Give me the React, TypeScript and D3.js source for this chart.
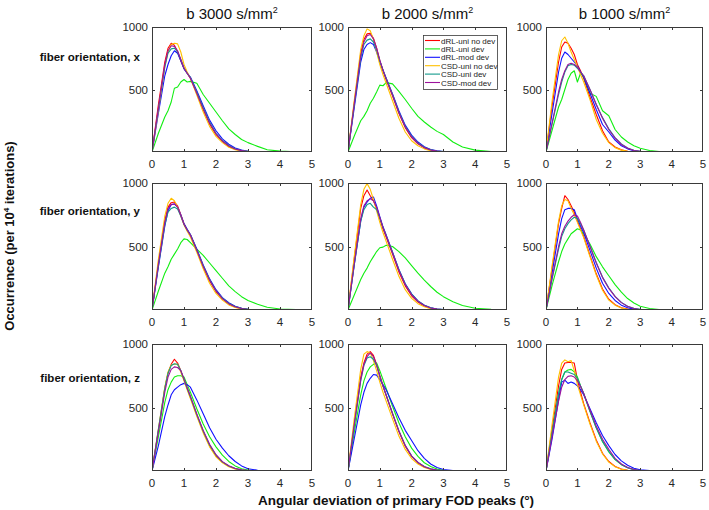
import React, { useEffect, useRef } from 'react'
import * as d3 from 'd3'

const GRID = [0, 0.2, 0.4, 0.5, 0.6, 0.7, 0.8, 0.9, 1.0, 1.1, 1.2, 1.4, 1.6, 1.8, 2.0, 2.2, 2.4, 2.6, 2.8, 3.0, 3.3, 3.6, 4.0, 4.5, 5.0]

const SERIES = ['dRL-uni no dev', 'dRL-uni dev', 'dRL-mod dev', 'CSD-uni no dev', 'CSD-uni dev', 'CSD-mod dev']
const COLORS = ['#ff0000', '#11ee11', '#1010ff', '#ffc000', '#129a8c', '#9c139c']

const B_VALUES = ['3000', '2000', '1000']
const ORIENTATIONS = ['x', 'y', 'z']
const X_TICKS = [0, 1, 2, 3, 4, 5]
const Y_TICKS = [500, 1000]

// each panel: one row per series, in SERIES order
const b3000_x = [
  [0, 380, 720, 830, 870, 855, 800, 730, 670, 630, 590, 470, 340, 225, 140, 85, 45, 22, 10, 4, 1, 0, 0, 0, 0],
  [0, 150, 280, 330, 400, 510, 520, 560, 580, 560, 565, 550, 460, 390, 320, 250, 185, 140, 100, 75, 45, 18, 7, 2, 0],
  [0, 310, 610, 700, 770, 810, 790, 730, 665, 630, 600, 490, 370, 255, 170, 105, 62, 32, 15, 6, 2, 0, 0, 0, 0],
  [0, 330, 680, 800, 860, 870, 865, 800, 700, 640, 590, 455, 320, 205, 125, 75, 38, 18, 8, 3, 1, 0, 0, 0, 0],
  [0, 340, 680, 790, 825, 830, 800, 740, 670, 630, 595, 480, 355, 240, 150, 92, 52, 26, 12, 5, 1, 0, 0, 0, 0],
  [0, 350, 700, 810, 850, 845, 810, 740, 670, 630, 590, 470, 345, 230, 145, 88, 48, 24, 11, 4, 1, 0, 0, 0, 0],
]
const b2000_x = [
  [0, 400, 790, 900, 945, 950, 910, 830, 730, 650, 580, 450, 310, 195, 115, 65, 33, 15, 6, 2, 0, 0, 0, 0, 0],
  [0, 130, 250, 285, 330, 390, 430, 480, 535, 530, 555, 545, 485, 420, 350, 285, 240, 200, 165, 140, 80, 40, 15, 4, 0],
  [0, 360, 720, 820, 860, 875, 860, 800, 725, 655, 590, 465, 330, 215, 135, 80, 42, 20, 9, 3, 1, 0, 0, 0, 0],
  [0, 420, 820, 930, 985, 970, 900, 800, 700, 620, 550, 410, 270, 160, 90, 50, 25, 10, 4, 1, 0, 0, 0, 0, 0],
  [0, 380, 750, 860, 895, 905, 880, 815, 730, 655, 590, 460, 320, 205, 125, 72, 38, 18, 8, 3, 0, 0, 0, 0, 0],
  [0, 390, 770, 880, 930, 940, 905, 830, 735, 655, 585, 455, 315, 200, 120, 68, 35, 16, 7, 2, 0, 0, 0, 0, 0],
]
const b1000_x = [
  [0, 380, 720, 840, 880, 870, 830, 780, 700, 650, 590, 440, 300, 170, 80, 40, 17, 6, 2, 0, 0, 0, 0, 0, 0],
  [0, 180, 360, 420, 500, 580, 630, 650, 560, 630, 600, 470, 445, 330, 290, 180, 120, 80, 50, 30, 12, 4, 1, 0, 0],
  [0, 320, 640, 750, 800, 780, 750, 720, 690, 640, 600, 470, 340, 220, 160, 95, 50, 25, 10, 4, 1, 0, 0, 0, 0],
  [0, 420, 780, 890, 920, 870, 800, 740, 680, 620, 560, 420, 260, 150, 75, 35, 15, 5, 2, 0, 0, 0, 0, 0, 0],
  [0, 230, 460, 560, 640, 690, 700, 695, 670, 640, 610, 500, 380, 275, 185, 115, 65, 32, 14, 5, 1, 0, 0, 0, 0],
  [0, 240, 480, 580, 650, 700, 710, 700, 680, 640, 610, 500, 380, 270, 180, 110, 60, 30, 12, 5, 1, 0, 0, 0, 0],
]
const b3000_y = [
  [0, 370, 700, 810, 845, 850, 820, 750, 680, 630, 590, 470, 340, 230, 145, 88, 48, 24, 11, 4, 1, 0, 0, 0, 0],
  [0, 150, 290, 340, 400, 440, 480, 530, 560, 555, 530, 480, 430, 370, 310, 250, 190, 145, 105, 75, 45, 22, 8, 3, 0],
  [0, 340, 660, 780, 830, 835, 810, 750, 680, 635, 595, 480, 355, 245, 160, 98, 57, 29, 14, 5, 2, 0, 0, 0, 0],
  [0, 400, 740, 840, 880, 860, 810, 740, 670, 620, 575, 455, 325, 210, 130, 78, 40, 19, 8, 3, 1, 0, 0, 0, 0],
  [0, 350, 670, 770, 800, 810, 795, 740, 675, 630, 592, 475, 350, 240, 152, 93, 53, 27, 13, 5, 1, 0, 0, 0, 0],
  [0, 360, 690, 800, 830, 835, 810, 745, 675, 630, 590, 470, 345, 235, 150, 90, 50, 25, 12, 4, 1, 0, 0, 0, 0],
]
const b2000_y = [
  [0, 410, 800, 900, 945, 900, 860, 800, 720, 640, 575, 440, 300, 190, 112, 63, 32, 15, 6, 2, 0, 0, 0, 0, 0],
  [0, 120, 240, 290, 330, 380, 420, 460, 490, 495, 510, 500, 460, 410, 350, 290, 235, 185, 140, 105, 65, 35, 14, 5, 0],
  [0, 360, 700, 810, 850, 880, 890, 820, 735, 655, 590, 455, 320, 207, 127, 72, 38, 18, 8, 3, 1, 0, 0, 0, 0],
  [0, 430, 830, 950, 995, 950, 870, 780, 690, 610, 540, 400, 265, 160, 92, 50, 25, 11, 4, 1, 0, 0, 0, 0, 0],
  [0, 360, 700, 790, 830, 840, 810, 790, 725, 650, 588, 455, 318, 205, 125, 71, 37, 17, 8, 3, 0, 0, 0, 0, 0],
  [0, 370, 720, 820, 860, 875, 860, 810, 730, 650, 585, 450, 312, 200, 120, 68, 35, 16, 7, 2, 0, 0, 0, 0, 0],
]
const b1000_y = [
  [0, 340, 680, 800, 900, 870, 820, 770, 700, 640, 580, 430, 285, 165, 85, 42, 18, 7, 2, 0, 0, 0, 0, 0, 0],
  [0, 200, 380, 460, 520, 560, 600, 620, 640, 630, 600, 520, 420, 340, 270, 200, 140, 90, 55, 30, 12, 4, 1, 0, 0],
  [0, 300, 600, 720, 790, 800, 800, 790, 720, 660, 610, 470, 330, 210, 130, 75, 38, 18, 7, 2, 0, 0, 0, 0, 0],
  [0, 360, 700, 820, 870, 860, 800, 750, 690, 630, 570, 420, 275, 155, 78, 38, 16, 6, 2, 0, 0, 0, 0, 0, 0],
  [0, 250, 480, 580, 640, 680, 710, 730, 720, 680, 630, 505, 375, 260, 175, 108, 60, 30, 13, 5, 1, 0, 0, 0, 0],
  [0, 260, 500, 600, 660, 700, 730, 750, 740, 690, 630, 500, 370, 255, 170, 105, 58, 28, 12, 4, 1, 0, 0, 0, 0],
]
const b3000_z = [
  [0, 320, 650, 770, 840, 880, 850, 790, 720, 650, 580, 440, 310, 200, 120, 70, 38, 18, 8, 3, 1, 0, 0, 0, 0],
  [0, 270, 540, 640, 700, 740, 750, 750, 740, 680, 620, 490, 370, 270, 190, 125, 75, 40, 18, 7, 2, 0, 0, 0, 0],
  [0, 200, 430, 520, 600, 640, 660, 680, 690, 680, 660, 560, 450, 340, 250, 180, 120, 75, 40, 18, 6, 2, 0, 0, 0],
  [0, 330, 660, 780, 835, 840, 840, 780, 710, 640, 570, 430, 300, 190, 112, 64, 34, 16, 7, 2, 0, 0, 0, 0, 0],
  [0, 330, 650, 770, 830, 845, 840, 790, 720, 650, 585, 445, 315, 205, 125, 72, 40, 19, 8, 3, 1, 0, 0, 0, 0],
  [0, 310, 620, 740, 800, 820, 815, 790, 725, 655, 590, 450, 320, 210, 128, 74, 41, 20, 9, 3, 1, 0, 0, 0, 0],
]
const b2000_z = [
  [0, 380, 740, 850, 920, 940, 910, 840, 750, 670, 595, 450, 310, 195, 115, 65, 32, 15, 6, 2, 0, 0, 0, 0, 0],
  [0, 310, 600, 710, 780, 820, 840, 850, 790, 720, 650, 510, 380, 270, 180, 115, 65, 35, 15, 6, 2, 0, 0, 0, 0],
  [0, 260, 520, 620, 690, 730, 760, 755, 720, 680, 640, 530, 420, 320, 240, 160, 100, 55, 28, 12, 4, 1, 0, 0, 0],
  [0, 420, 800, 920, 940, 930, 870, 790, 700, 620, 550, 410, 275, 170, 98, 55, 27, 12, 5, 1, 0, 0, 0, 0, 0],
  [0, 360, 710, 830, 890, 900, 880, 830, 745, 668, 598, 455, 318, 203, 120, 68, 35, 17, 7, 2, 0, 0, 0, 0, 0],
  [0, 370, 720, 840, 900, 930, 900, 835, 750, 670, 598, 452, 315, 200, 118, 67, 34, 16, 7, 2, 0, 0, 0, 0, 0],
]
const b1000_z = [
  [0, 340, 670, 800, 850, 855, 855, 850, 720, 620, 530, 380, 245, 140, 75, 36, 15, 6, 2, 0, 0, 0, 0, 0, 0],
  [0, 300, 600, 720, 780, 795, 800, 780, 740, 670, 610, 470, 340, 230, 150, 90, 50, 25, 11, 4, 1, 0, 0, 0, 0],
  [0, 260, 560, 700, 715, 690, 700, 690, 670, 640, 600, 490, 380, 280, 200, 130, 80, 45, 22, 9, 3, 1, 0, 0, 0],
  [0, 380, 740, 850, 875, 860, 870, 790, 680, 600, 520, 370, 235, 135, 70, 33, 14, 5, 2, 0, 0, 0, 0, 0, 0],
  [0, 310, 610, 720, 780, 780, 770, 760, 730, 670, 610, 470, 340, 235, 155, 92, 52, 26, 11, 4, 1, 0, 0, 0, 0],
  [0, 280, 550, 660, 720, 745, 750, 740, 710, 665, 610, 480, 355, 250, 170, 100, 55, 28, 12, 4, 1, 0, 0, 0, 0],
]

const PANELS = [
  [b3000_x, b2000_x, b1000_x],
  [b3000_y, b2000_y, b1000_y],
  [b3000_z, b2000_z, b1000_z],
]

const COL_X = [152, 348, 546]
const COL_W = [160, 159, 157]
const ROW_Y = [27, 183, 344]
const ROW_H = [125, 127, 127]

const FONT = '"Liberation Sans", Arial, sans-serif'
const INK = '#262626'

export default function App() {
  const svgRef = useRef<SVGSVGElement>(null)

  useEffect(() => {
    if (!svgRef.current) return
    const svg = d3.select(svgRef.current)
    svg.selectAll('*').remove()
    const defs = svg.append('defs')

    PANELS.forEach((row, r) => {
      row.forEach((panel, c) => {
        const w = COL_W[c]
        const h = ROW_H[r]
        const g = svg.append('g').attr('transform', `translate(${COL_X[c]},${ROW_Y[r]})`)

        const x = d3.scaleLinear().domain([0, 5]).range([0, w])
        const y = d3.scaleLinear().domain([0, 1000]).range([h, 0])

        const clipId = `clip-${r}-${c}`
        defs.append('clipPath').attr('id', clipId)
          .append('rect').attr('x', 0).attr('y', -2).attr('width', w).attr('height', h + 2)

        const line = d3.line<number>()
          .x((_, i) => x(GRID[i]))
          .y(d => y(d))

        g.append('g').attr('clip-path', `url(#${clipId})`)
          .selectAll('path')
          .data(panel)
          .enter()
          .append('path')
          .attr('d', d => line(d))
          .attr('fill', 'none')
          .attr('stroke', (_, i) => COLORS[i])
          .attr('stroke-width', 1.1)
          .attr('stroke-linejoin', 'round')

        // box
        g.append('rect')
          .attr('x', 0.5).attr('y', 0.5)
          .attr('width', w - 1).attr('height', h - 1)
          .attr('fill', 'none')
          .attr('stroke', '#3a3a3a')
          .attr('stroke-width', 1)

        // inward ticks, mirrored on top and right
        X_TICKS.slice(1, -1).forEach(t => {
          const xx = Math.round(x(t)) + 0.5
          g.append('line').attr('x1', xx).attr('x2', xx).attr('y1', h).attr('y2', h - 3).attr('stroke', '#3a3a3a')
          g.append('line').attr('x1', xx).attr('x2', xx).attr('y1', 0).attr('y2', 3).attr('stroke', '#3a3a3a')
        })
        Y_TICKS.slice(0, -1).forEach(t => {
          const yy = Math.round(y(t)) + 0.5
          g.append('line').attr('x1', 0).attr('x2', 3).attr('y1', yy).attr('y2', yy).attr('stroke', '#3a3a3a')
          g.append('line').attr('x1', w).attr('x2', w - 3).attr('y1', yy).attr('y2', yy).attr('stroke', '#3a3a3a')
        })

        g.selectAll('.xlab')
          .data(X_TICKS)
          .enter()
          .append('text')
          .attr('x', d => x(d))
          .attr('y', h + 16)
          .attr('text-anchor', 'middle')
          .style('font-family', FONT)
          .style('font-size', '11.5px')
          .style('fill', INK)
          .text(d => d)

        g.selectAll('.ylab')
          .data(Y_TICKS)
          .enter()
          .append('text')
          .attr('x', -4)
          .attr('y', d => y(d) + 4)
          .attr('text-anchor', 'end')
          .style('font-family', FONT)
          .style('font-size', '11.5px')
          .style('fill', INK)
          .text(d => d)
      })
    })

    // column titles
    B_VALUES.forEach((b, c) => {
      const t = svg.append('text')
        .attr('x', COL_X[c] + COL_W[c] / 2)
        .attr('y', 19)
        .attr('text-anchor', 'middle')
        .style('font-family', FONT)
        .style('font-size', '15px')
        .style('fill', '#111')
      t.append('tspan').text(`b ${b}  s/mm`)
      t.append('tspan').attr('dy', -6).style('font-size', '9px').text('2')
    })

    // row labels
    ORIENTATIONS.forEach((o, r) => {
      svg.append('text')
        .attr('x', 140)
        .attr('y', [61, 215, 382][r])
        .attr('text-anchor', 'end')
        .style('font-family', FONT)
        .style('font-size', '11.5px')
        .style('font-weight', 'bold')
        .style('fill', '#111')
        .text(`fiber orientation, ${o}`)
    })

    // y axis label
    const yl = svg.append('text')
      .attr('transform', 'translate(14,236) rotate(-90)')
      .attr('text-anchor', 'middle')
      .style('font-family', FONT)
      .style('font-size', '13px')
      .style('font-weight', 'bold')
      .style('fill', '#111')
    yl.append('tspan').text('Occurrence (per 10')
    yl.append('tspan').attr('dy', -5).style('font-size', '8px').text('4')
    yl.append('tspan').attr('dy', 5).text(' iterations)')

    // x axis label
    svg.append('text')
      .attr('x', 396)
      .attr('y', 505)
      .attr('text-anchor', 'middle')
      .style('font-family', FONT)
      .style('font-size', '13.5px')
      .style('font-weight', 'bold')
      .style('fill', '#111')
      .text('Angular deviation of primary FOD peaks (°)')

    // legend in the b2000 / x panel
    const lg = svg.append('g').attr('transform', 'translate(423,35)')
    lg.append('rect')
      .attr('x', 0.5).attr('y', 0.5)
      .attr('width', 74).attr('height', 54)
      .attr('fill', '#fff')
      .attr('stroke', '#3a3a3a')
      .attr('stroke-width', 0.8)
    SERIES.forEach((s, i) => {
      const yy = 5.5 + i * 8.4
      lg.append('line')
        .attr('x1', 2).attr('x2', 17)
        .attr('y1', yy).attr('y2', yy)
        .attr('stroke', COLORS[i])
        .attr('stroke-width', 1.1)
      lg.append('text')
        .attr('x', 18)
        .attr('y', yy + 3)
        .style('font-family', FONT)
        .style('font-size', '8px')
        .style('fill', '#222')
        .text(s)
    })
  }, [])

  return (
    <svg
      ref={svgRef}
      width={709}
      height={510}
      style={{ position: 'absolute', left: 0, top: 0, background: '#fff', display: 'block' }}
    />
  )
}
